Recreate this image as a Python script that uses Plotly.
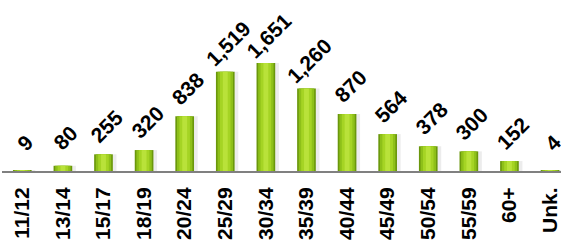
import plotly.graph_objects as go

categories = ["11/12", "13/14", "15/17", "18/19", "20/24", "25/29", "30/34",
              "35/39", "40/44", "45/49", "50/54", "55/59", "60+", "Unk."]
counts = [9, 80, 255, 320, 838, 1519, 1651, 1260, 870, 564, 378, 300, 152, 4]

FONT = "Liberation Sans, Arial, sans-serif"

fig = go.Figure()
# soft shadow to the right of each bar
fig.add_trace(go.Bar(
    x=categories, y=counts, width=0.52, offset=-0.2,
    marker=dict(color="#ececec", line=dict(width=0)),
    hoverinfo="skip", showlegend=False,
))
# layered bars to imitate the cylinder-like gradient
layers = [(0.46, "#6a970c"), (0.38, "#8ec019"), (0.26, "#a5d424"), (0.12, "#b9e23a")]
for w, c in layers:
    fig.add_trace(go.Bar(
        x=categories, y=counts, width=w, marker=dict(color=c, line=dict(width=0)),
        hoverinfo="skip", showlegend=False,
    ))

for cat, v in zip(categories, counts):
    fig.add_annotation(
        x=cat, y=v, text=f"{v:,}", showarrow=False, textangle=-45,
        xanchor="center", yanchor="middle", yshift=28, xshift=3,
        font=dict(family=FONT, size=21, color="black", weight="bold"),
    )

fig.update_layout(
    width=561, height=250,
    margin=dict(l=2, r=0, t=0, b=79, autoexpand=False),
    barmode="overlay",
    plot_bgcolor="white", paper_bgcolor="white",
    xaxis=dict(
        type="category", range=[-0.5, 13.27],
        showline=True, linecolor="#808080", linewidth=2,
        showgrid=False, ticks="", tickangle=-90, automargin=False,
        tickfont=dict(family=FONT, size=21, color="black", weight="bold"),
        ticklabelstandoff=6,
    ),
    yaxis=dict(visible=False, range=[0, 2615]),
)

fig.write_html("out.html", config={"displayModeBar": False},
               post_script="document.body.style.margin='0';document.body.style.overflow='hidden';")
